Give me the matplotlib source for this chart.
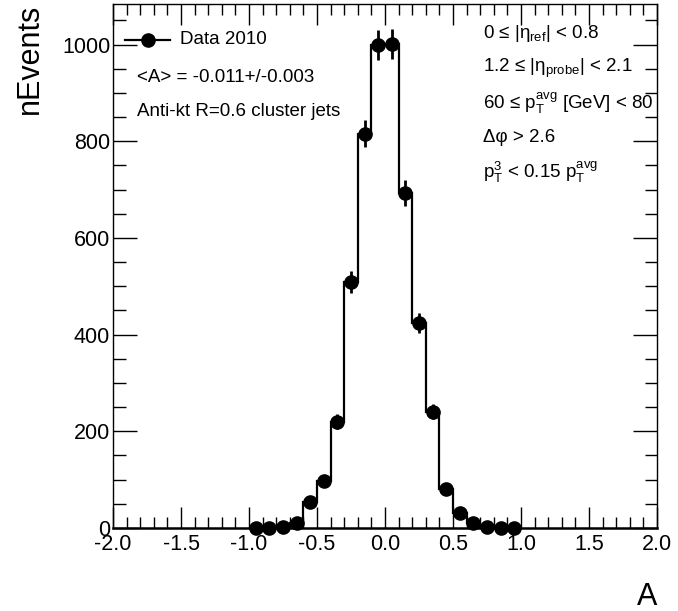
"""
Asymmetry distribution A for the eta-intercalibration bin, drawn in ROOT style.
"""

import matplotlib
matplotlib.use("Agg")
import matplotlib.pyplot as plt
from matplotlib.ticker import MultipleLocator
import numpy as np

plt.rcParams["font.family"] = ["Liberation Sans", "DejaVu Sans"]
plt.rcParams["mathtext.fontset"] = "custom"
plt.rcParams["mathtext.rm"] = "Liberation Sans"
plt.rcParams["mathtext.it"] = "Liberation Sans"
plt.rcParams["mathtext.bf"] = "Liberation Sans:bold"

# histogram contents, 20 bins of width 0.1 between -1 and 1
bin_edges = np.round(np.arange(-1.0, 1.0001, 0.1), 2)
counts = [1, 1, 3, 11, 54, 98, 220, 509, 816, 999,
          1001, 693, 425, 241, 80, 32, 11, 2, 1, 0]

legend_label = "Data 2010"
info_left = ["<A> = -0.011+/-0.003", "Anti-kt R=0.6 cluster jets"]
info_right = [
    r"0 ≤ |η$_{\rm ref}$| < 0.8",
    r"1.2 ≤ |η$_{\rm probe}$| < 2.1",
    r"60 ≤ p$_{\rm T}^{\rm avg}$ [GeV] < 80",
    r"Δφ > 2.6",
    r"p$_{\rm T}^{3}$ < 0.15 p$_{\rm T}^{\rm avg}$",
]

counts = np.array(counts, dtype=float)
centers = 0.5 * (bin_edges[:-1] + bin_edges[1:])
errors = np.sqrt(counts)

fig = plt.figure(figsize=(6.78, 6.11), dpi=100)
ax = fig.add_axes([113 / 678, 83 / 611, 544 / 678, 524 / 611])

ax.stairs(counts, bin_edges, color="black", linewidth=1.6, baseline=None)
ax.errorbar(centers, counts, yerr=errors, fmt="o", color="black",
            markersize=9.5, elinewidth=2, capsize=0, clip_on=False, zorder=4)

ax.set_xlim(-2.0, 2.0)
ax.set_ylim(0, 1084)

ax.xaxis.set_major_locator(MultipleLocator(0.5))
ax.xaxis.set_minor_locator(MultipleLocator(0.1))
ax.yaxis.set_major_locator(MultipleLocator(200))
ax.yaxis.set_minor_locator(MultipleLocator(50))
ax.xaxis.set_major_formatter(lambda v, _: f"{v:.1f}")
ax.yaxis.set_major_formatter(lambda v, _: f"{v:.0f}")

ax.tick_params(which="both", direction="in", top=True, right=True,
               labelsize=15.5, width=1.0, color="black")
ax.tick_params(axis="x", which="major", length=15, pad=4)
ax.tick_params(axis="x", which="minor", length=8)
ax.tick_params(axis="y", which="major", length=17, pad=2)
ax.tick_params(axis="y", which="minor", length=9)
for spine in ax.spines.values():
    spine.set_linewidth(1.0)
ax.spines["bottom"].set_linewidth(1.8)

ax.set_xlabel("A", fontsize=22, loc="right", labelpad=20)
ax.set_ylabel("nEvents", fontsize=22, loc="top", labelpad=12)

# legend entry drawn by hand: line with marker, label to the right
lx0, lx1, ly = 125 / 678, 170 / 678, 1 - 40 / 611
fig.add_artist(plt.Line2D([lx0, lx1], [ly, ly], color="black", linewidth=1.6,
                          transform=fig.transFigure))
fig.add_artist(plt.Line2D([(lx0 + lx1) / 2], [ly], marker="o", color="black",
                          markersize=9.5, transform=fig.transFigure))
fig.text(180 / 678, ly, legend_label, fontsize=13.5, va="center", ha="left")

for i, txt in enumerate(info_left):
    fig.text(137 / 678, 1 - (77 + 34.5 * i) / 611, txt, fontsize=13.5,
             va="center", ha="left")

for i, txt in enumerate(info_right):
    fig.text(483 / 678, 1 - (34 + 34.5 * i) / 611, txt, fontsize=13.5,
             va="center", ha="left")

fig.savefig("out.png", dpi=100)
